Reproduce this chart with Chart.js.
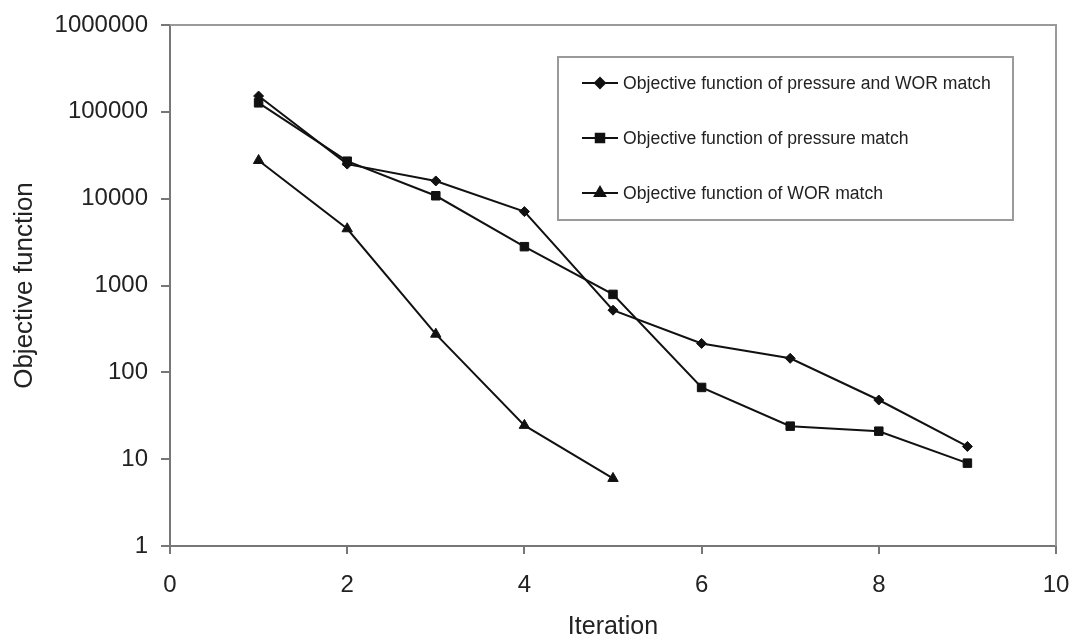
<!DOCTYPE html>
<html>
<head>
<meta charset="utf-8">
<script src="https://cdn.jsdelivr.net/npm/chart.js@4/dist/chart.umd.min.js"></script>
<style>
  html, body { margin: 0; padding: 0; background: #fff; }
  #wrap { width: 1075px; height: 640px; }
</style>
</head>
<body>
<div id="wrap"><canvas id="c" width="1075" height="640"></canvas></div>
<script>
// iteration number and objective function value per run
const iterations = [1, 2, 3, 4, 5, 6, 7, 8, 9];
const pressureAndWor = [152000, 25000, 16000, 7100, 520, 215, 145, 48, 14];
const pressureOnly = [127000, 27000, 10800, 2800, 790, 67, 24, 21, 9];
const worOnly = [27500, 4500, 275, 24.5, 6];
const yTicks = [1, 10, 100, 1000, 10000, 100000, 1000000];
const xTicks = [0, 2, 4, 6, 8, 10];

const seriesNames = [
  'Objective function of pressure and WOR match',
  'Objective function of pressure match',
  'Objective function of WOR match'
];

const FONT = "'Liberation Sans', Arial, sans-serif";
const INK = '#111';

function points(ys) {
  return ys.map((y, i) => ({ x: iterations[i], y: y }));
}

function series(label, ys, style, radius) {
  return {
    label: label,
    data: points(ys),
    showLine: true,
    borderColor: INK,
    backgroundColor: INK,
    borderWidth: 2,
    pointStyle: style,
    pointRadius: radius,
    pointBorderWidth: 1,
    pointBorderColor: INK,
    pointBackgroundColor: INK,
    tension: 0
  };
}

// grey box around the plot area (top and right sides)
const frame = {
  id: 'frame',
  beforeDatasetsDraw(chart) {
    const { ctx, chartArea: a } = chart;
    ctx.save();
    ctx.strokeStyle = '#9a9a9a';
    ctx.lineWidth = 2;
    ctx.beginPath();
    ctx.moveTo(a.left, a.top);
    ctx.lineTo(a.right, a.top);
    ctx.lineTo(a.right, a.bottom);
    ctx.stroke();
    ctx.restore();
  }
};

// boxed legend inside the plot, upper right
const boxLegend = {
  id: 'boxLegend',
  afterDraw(chart) {
    const ctx = chart.ctx;
    const box = { x: 558, y: 57, w: 455, h: 163 };
    const rows = [83, 138, 193];
    ctx.save();
    ctx.fillStyle = '#fff';
    ctx.fillRect(box.x, box.y, box.w, box.h);
    ctx.strokeStyle = '#9a9a9a';
    ctx.lineWidth = 2;
    ctx.strokeRect(box.x, box.y, box.w, box.h);
    chart.data.datasets.forEach((ds, i) => {
      const y = rows[i];
      ctx.strokeStyle = INK;
      ctx.lineWidth = 2;
      ctx.beginPath();
      ctx.moveTo(582, y);
      ctx.lineTo(618, y);
      ctx.stroke();
      ctx.fillStyle = INK;
      Chart.helpers.drawPoint(ctx, {
        pointStyle: ds.pointStyle,
        radius: ds.pointRadius,
        borderWidth: 1,
        rotation: 0
      }, 600, y);
      ctx.fillStyle = '#222';
      ctx.font = '17.6px ' + FONT;
      ctx.textBaseline = 'middle';
      ctx.textAlign = 'left';
      ctx.fillText(ds.label, 623, y + 1);
    });
    ctx.restore();
  }
};

new Chart(document.getElementById('c'), {
  type: 'scatter',
  data: {
    datasets: [
      series(seriesNames[0], pressureAndWor, 'rectRot', 5),
      series(seriesNames[1], pressureOnly, 'rect', 6),
      series(seriesNames[2], worOnly, 'triangle', 6)
    ]
  },
  options: {
    responsive: false,
    animation: false,
    layout: { padding: { left: 0, top: 25, right: 19, bottom: 0 } },
    plugins: {
      legend: { display: false },
      tooltip: { enabled: false }
    },
    scales: {
      x: {
        type: 'linear',
        min: 0,
        max: 10,
        afterBuildTicks: s => { s.ticks = xTicks.map(v => ({ value: v })); },
        afterFit: s => { s.height = 94; s.paddingLeft = 0; s.paddingRight = 0; },
        grid: { drawOnChartArea: false, tickLength: 8, color: '#777', lineWidth: 2 },
        border: { color: '#777', width: 2 },
        ticks: { color: '#222', padding: 17, font: { family: FONT, size: 24 } },
        title: {
          display: true,
          text: 'Iteration',
          color: '#222',
          padding: 0,
          font: { family: FONT, size: 25, lineHeight: 1 }
        }
      },
      y: {
        type: 'logarithmic',
        min: 1,
        max: 1000000,
        afterBuildTicks: s => { s.ticks = yTicks.map(v => ({ value: v })); },
        afterFit: s => { s.width = 170; s.paddingTop = 0; s.paddingBottom = 0; },
        grid: { drawOnChartArea: false, tickLength: 9, color: '#777', lineWidth: 2 },
        border: { color: '#777', width: 2 },
        ticks: {
          color: '#222',
          padding: 13,
          font: { family: FONT, size: 24 },
          callback: v => String(v)
        },
        title: {
          display: true,
          text: 'Objective function',
          color: '#222',
          padding: { top: 12, bottom: 0 },
          font: { family: FONT, size: 26, lineHeight: 1 }
        }
      }
    }
  },
  plugins: [frame, boxLegend]
});
</script>
</body>
</html>
